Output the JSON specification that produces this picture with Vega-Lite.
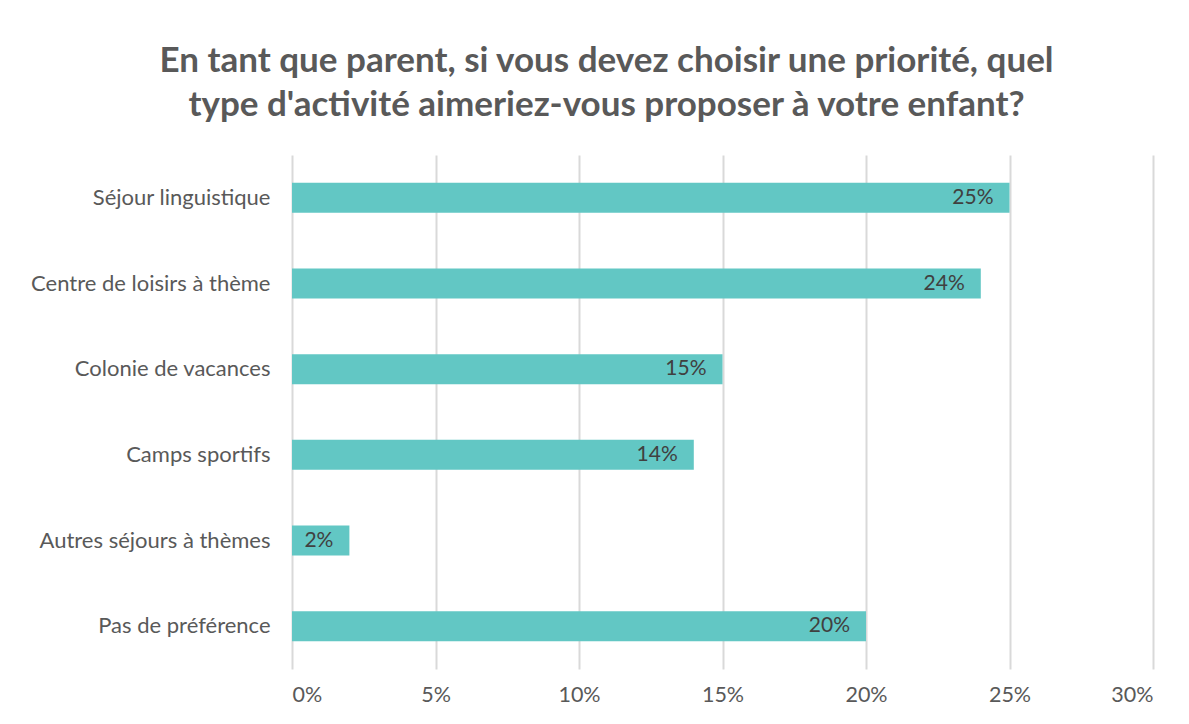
{
  "$schema": "https://vega.github.io/schema/vega-lite/v6.json",
  "autosize": {"type": "none"},
  "padding": {"left": 292, "top": 155, "right": 36, "bottom": 55},
  "width": 861,
  "height": 514,
  "background": "white",
  "title": {
    "text": ["En tant que parent, si vous devez choisir une priorité, quel", "type d'activité aimeriez-vous proposer à  votre enfant?"],
    "frame": "group",
    "anchor": "middle",
    "dx": -116,
    "font": "Lato",
    "fontSize": 35,
    "fontWeight": "bold",
    "color": "#595959",
    "lineHeight": 44,
    "offset": 32
  },
  "config": {"view": {"stroke": null}},
  "data": {
    "values": [
      {"activite": "Séjour linguistique\u00a0\u00a0", "part": 0.25},
      {"activite": "Centre de loisirs à thème", "part": 0.24},
      {"activite": "Colonie de vacances", "part": 0.15},
      {"activite": "Camps sportifs", "part": 0.14},
      {"activite": "Autres séjours à thèmes", "part": 0.02},
      {"activite": "Pas de préférence", "part": 0.20}
    ]
  },
  "encoding": {
    "y": {
      "field": "activite",
      "type": "nominal",
      "sort": null,
      "title": null,
      "axis": {
        "domain": false,
        "ticks": false,
        "labelFont": "Lato",
        "labelFontSize": 22,
        "labelColor": "#595959",
        "labelPadding": 22,
        "labelLimit": 400
      }
    },
    "x": {
      "field": "part",
      "type": "quantitative",
      "scale": {"domain": [0, 0.3], "nice": false},
      "title": null,
      "axis": {
        "format": ".0%",
        "values": [0, 0.05, 0.1, 0.15, 0.2, 0.25, 0.3],
        "domain": false,
        "ticks": false,
        "grid": true,
        "gridColor": "#d9d9d9",
        "gridWidth": 2,
        "labelFont": "Lato",
        "labelFontSize": 21.5,
        "labelColor": "#595959",
        "labelPadding": 15
      }
    }
  },
  "layer": [
    {"mark": {"type": "bar", "color": "#62C7C4", "size": 30}},
    {
      "mark": {"type": "text", "align": "right", "dx": -16, "font": "Lato", "fontSize": 21, "color": "#404040"},
      "encoding": {"text": {"field": "part", "type": "quantitative", "format": ".0%"}}
    }
  ]
}
